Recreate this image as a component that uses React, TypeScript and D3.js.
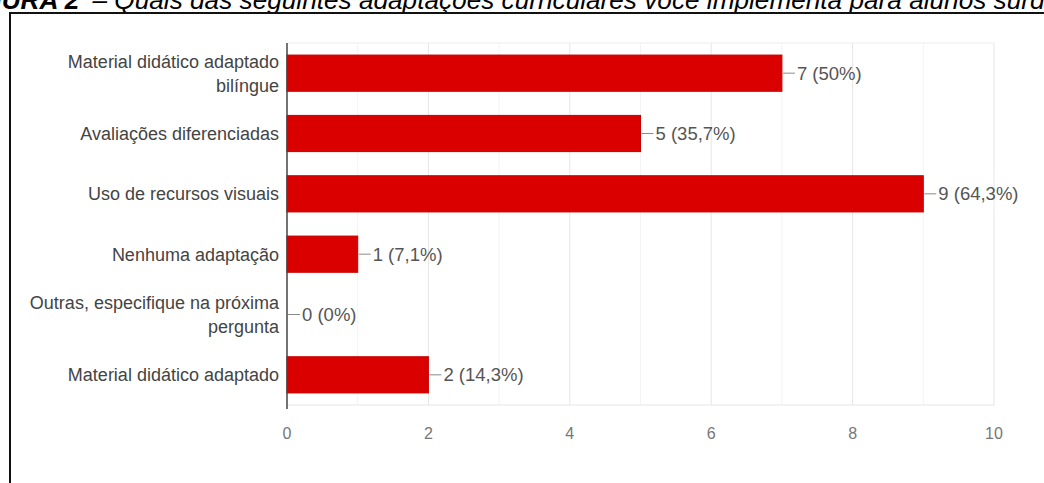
import React from "react";
import * as d3 from "d3";

const categories: string[][] = [
  ["Material didático adaptado", "bilíngue"],
  ["Avaliações diferenciadas"],
  ["Uso de recursos visuais"],
  ["Nenhuma adaptação"],
  ["Outras, especifique na próxima", "pergunta"],
  ["Material didático adaptado"],
];
const values: number[] = [7, 5, 9, 1, 0, 2];
const percents: string[] = ["50%", "35,7%", "64,3%", "7,1%", "0%", "14,3%"];
const majorTicks: number[] = [0, 2, 4, 6, 8, 10];
const minorTicks: number[] = [1, 3, 5, 7, 9];
const captionBold = "FIGURA 2";
const captionRest = " – Quais das seguintes adaptações curriculares você implementa para alunos surdos?";

const W = 1044;
const H = 483;
const FONT = "'Liberation Sans', Arial, sans-serif";

export default function App() {
  const x = d3.scaleLinear().domain([0, 10]).range([287, 994]);
  const y = d3
    .scaleBand<number>()
    .domain(values.map((_, i) => i))
    .range([43, 405])
    .paddingInner(0.4)
    .paddingOuter(0.2);
  const top = 43;
  const bottom = 405;

  return (
    <div style={{ position: "fixed", left: 0, top: 0, width: W, height: H, background: "#fff" }}>
      <svg width={W} height={H} style={{ display: "block" }}>
        <rect x={0} y={0} width={W} height={H} fill="#fff" />
        {/* caption */}
        <text x={-42} y={8.5} fontFamily={FONT} fontSize={26.2} fill="#000">
          <tspan fontWeight="bold" fontStyle="italic">{captionBold}</tspan>
          <tspan fontStyle="italic" dx={6}>{captionRest}</tspan>
        </text>
        {/* frame */}
        <line x1={10} x2={W + 5} y1={13} y2={13} stroke="#111" strokeWidth={2} />
        <line x1={10} x2={10} y1={12} y2={H + 5} stroke="#111" strokeWidth={2} />

        {/* grid */}
        {minorTicks.map((t) => (
          <line key={"m" + t} x1={x(t)} x2={x(t)} y1={top} y2={bottom} stroke="#f3f3f3" strokeWidth={1} />
        ))}
        {majorTicks.slice(1).map((t) => (
          <line key={"g" + t} x1={x(t)} x2={x(t)} y1={top} y2={bottom} stroke="#e6e6e6" strokeWidth={1} />
        ))}
        <line x1={x(0)} x2={x(10)} y1={top} y2={top} stroke="#ececec" strokeWidth={1} />
        <line x1={x(0)} x2={x(10)} y1={bottom} y2={bottom} stroke="#e6e6e6" strokeWidth={1} />

        {/* bars */}
        {values.map((v, i) => {
          const y0 = y(i)!;
          const bw = y.bandwidth();
          const cy = y0 + bw / 2;
          const xe = x(v);
          return (
            <g key={"b" + i}>
              {v > 0 && (
                <rect x={x(0)} y={y0} width={xe - x(0)} height={bw} fill="#db0000" stroke="#c40000" strokeWidth={1} />
              )}
              <line x1={xe + 1} x2={xe + 13} y1={cy} y2={cy} stroke="#8a8a8a" strokeWidth={1} />
              <text x={xe + 15} y={cy + 6.5} fontFamily={FONT} fontSize={18.5} fill="#555">
                {`${v} (${percents[i]})`}
              </text>
            </g>
          );
        })}

        {/* category labels */}
        {categories.map((lines, i) => {
          const cy = y(i)! + y.bandwidth() / 2;
          const n = lines.length;
          return (
            <text key={"c" + i} textAnchor="end" fontFamily={FONT} fontSize={18} fill="#444">
              {lines.map((l, k) => (
                <tspan key={k} x={279} y={cy + 6.5 + (k - (n - 1) / 2) * 24}>
                  {l}
                </tspan>
              ))}
            </text>
          );
        })}

        {/* axis line */}
        <line x1={x(0)} x2={x(0)} y1={top} y2={bottom + 4} stroke="#444" strokeWidth={1.5} />

        {/* tick labels */}
        {majorTicks.map((t) => (
          <text key={"t" + t} x={x(t)} y={439} textAnchor="middle" fontFamily={FONT} fontSize={16} fill="#777">
            {t}
          </text>
        ))}
      </svg>
    </div>
  );
}
